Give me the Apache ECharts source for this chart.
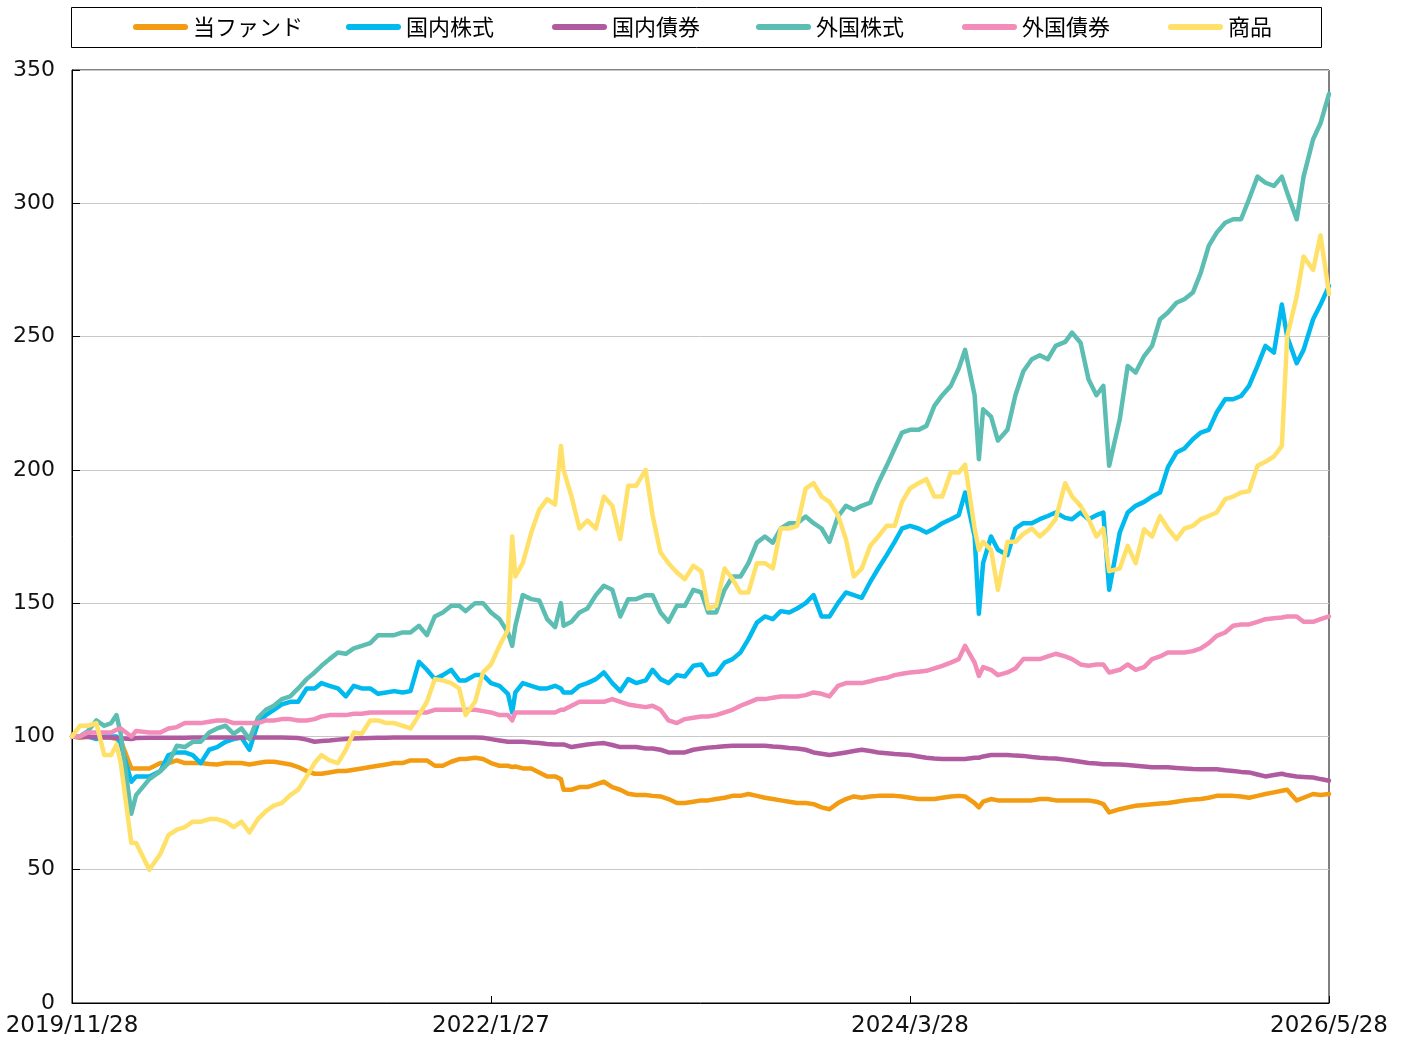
<!DOCTYPE html>
<html>
<head>
<meta charset="utf-8">
<script src="https://cdn.jsdelivr.net/npm/echarts@6/dist/echarts.min.js"></script>
<style>
html,body{margin:0;padding:0;background:#fff;}
#chart{width:1403px;height:1039px;}
</style>
</head>
<body>
<div id="chart"></div>
<script>
const seriesNames = ['当ファンド','国内株式','国内債券','外国株式','外国債券','商品'];
const seriesColors = ['#F39C12','#00B9EF','#B05BA0','#5CBEB2','#F28CB9','#FFE16A'];
const xTickDates = ['2019-11-28','2022-01-27','2024-03-28','2026-05-28'];
const yTicks = [0,50,100,150,200,250,300,350];

const dates = ['2019-11-28','2019-12-13','2019-12-28','2020-01-13','2020-01-28','2020-02-10','2020-02-20','2020-02-28','2020-03-19','2020-03-28',
'2020-04-22','2020-05-13','2020-05-28','2020-06-13','2020-06-28','2020-07-13','2020-07-28','2020-08-13','2020-08-28','2020-09-13',
'2020-09-28','2020-10-13','2020-10-28','2020-11-13','2020-11-28','2020-12-13','2020-12-28','2021-01-13','2021-01-28','2021-02-13',
'2021-02-28','2021-03-13','2021-03-28','2021-04-13','2021-04-28','2021-05-13','2021-05-28','2021-06-13','2021-06-28','2021-07-13',
'2021-07-28','2021-08-13','2021-08-28','2021-09-13','2021-09-28','2021-10-13','2021-10-28','2021-11-13','2021-11-28','2021-12-10',
'2021-12-28','2022-01-12','2022-01-27','2022-02-12','2022-02-28','2022-03-08','2022-03-14','2022-03-28','2022-04-13','2022-04-28',
'2022-05-13','2022-05-28','2022-06-08','2022-06-13','2022-06-28','2022-07-13','2022-07-28','2022-08-13','2022-08-28','2022-09-13',
'2022-09-28','2022-10-13','2022-10-28','2022-11-15','2022-11-28','2022-12-13','2022-12-28','2023-01-13','2023-01-28','2023-02-13',
'2023-02-28','2023-03-13','2023-03-28','2023-04-13','2023-04-28','2023-05-13','2023-05-28','2023-06-13','2023-06-28','2023-07-13',
'2023-07-28','2023-08-13','2023-08-28','2023-09-13','2023-09-28','2023-10-13','2023-10-28','2023-11-13','2023-11-28','2023-12-13',
'2023-12-28','2024-01-13','2024-01-28','2024-02-13','2024-02-28','2024-03-13','2024-03-28','2024-04-13','2024-04-28','2024-05-13',
'2024-05-28','2024-06-13','2024-06-28','2024-07-10','2024-07-28','2024-08-05','2024-08-13','2024-08-28','2024-09-10','2024-09-28',
'2024-10-13','2024-10-28','2024-11-13','2024-11-28','2024-12-13','2024-12-28','2025-01-15','2025-01-28','2025-02-13','2025-02-28',
'2025-03-15','2025-03-28','2025-04-08','2025-04-28','2025-05-13','2025-05-28','2025-06-13','2025-06-28','2025-07-13','2025-07-28',
'2025-08-13','2025-08-28','2025-09-13','2025-09-28','2025-10-13','2025-10-28','2025-11-13','2025-11-28','2025-12-13','2025-12-28',
'2026-01-13','2026-01-28','2026-02-13','2026-02-28','2026-03-10','2026-03-28','2026-04-10','2026-04-28','2026-05-12','2026-05-28'];

// 当ファンド
const fund = [100,99.5,100,99.5,99.8,99.5,99,98.5,88,88,
88,90,90,91,90,90,90,89.7,89.5,90,
90,90,89.5,90,90.5,90.5,90,89.5,88.5,87,
86,86,86.5,87,87,87.5,88,88.5,89,89.5,
90,90,91,91,91,89,89,90.5,91.5,91.5,
92,91.5,90,89,89,88.5,88.7,88,88,86.5,
85,85,84,80,80,81,81,82,83,81,
80,78.5,78,78,77.7,77.5,76.5,75,75,75.5,
76,76,76.5,77,77.7,77.7,78.4,77.7,77,76.5,
76,75.5,75,75,74.6,73.4,72.7,75,76.5,77.5,
77,77.5,77.7,77.7,77.7,77.5,77,76.5,76.5,76.5,
77,77.5,77.7,77.5,75,73.4,75.5,76.5,76,76,
76,76,76,76.5,76.5,76,76,76,76,76,
75.5,74.6,71.5,72.7,73.4,74,74.3,74.6,74.8,75,
75.5,76,76.3,76.5,77,77.7,77.7,77.7,77.5,77,
77.7,78.4,79,79.6,80,76,77,78.4,78,78.4];

// 国内株式
const jpStock = [100,100,100,99,100,100,100,97,83,85,
85,87,93,94,94,93,90,95,96,98,
99,99.6,95,105,108,110,112,113,113,118,
118,120,119,118,115,119,118,118,116,116.5,
117,116.5,117,128,125,121.5,123,125,121,121,
123,123,120,119,116,109,116.5,120,119,118,
118,119,118,116.5,116.5,119,120,121.5,124,120,
117,121.5,120,121,125,121.5,120,123,122.5,126.5,
127,123,123.5,127.7,129,131.5,136.5,142.7,145,144,
147,146.5,148,150,153,145,145,150,154,153,
152,158,163,168,173,178,179,178,176.5,178,
180,181.5,183,191.5,175,146,165,175,170,168,
178,180,180,181.5,182.7,184,182,181.5,184,181.5,
183,184,155,176.5,184,186.5,188,190,191.5,201,
206.5,208,211.5,214,215,221.5,226.5,226.5,227.7,231.5,
239,246.5,244,262,250,240,245,256.5,262,269];

// 国内債券
const jpBond = [100,99.8,99.8,99.7,99.6,99.6,99.5,99.3,99,99.4,
99.5,99.5,99.5,99.5,99.5,99.6,99.6,99.6,99.6,99.6,
99.6,99.6,99.6,99.6,99.6,99.6,99.6,99.5,99.4,98.8,
98,98.3,98.5,98.8,99,99.2,99.3,99.4,99.5,99.5,
99.6,99.6,99.6,99.6,99.6,99.6,99.6,99.6,99.6,99.6,
99.6,99.5,99,98.5,98,98,98,98,97.7,97.5,
97.2,97,97,97,96,96.5,97,97.3,97.5,96.8,
96,96,96,95.5,95.5,95,94,94,94,95,
95.5,95.8,96,96.3,96.5,96.5,96.5,96.5,96.5,96.2,
96,95.7,95.5,95,94,93.5,93,93.5,94,94.5,
95,94.5,94,93.7,93.4,93.2,93,92.5,92,91.7,
91.5,91.5,91.5,91.5,92,92,92.5,93,93,93,
92.8,92.7,92.3,92,91.8,91.7,91.3,91,90.5,90,
89.8,89.6,89.6,89.5,89.3,89,88.7,88.4,88.4,88.4,
88.2,88,87.8,87.7,87.7,87.7,87.3,87,86.7,86.5,
85.7,85,85.5,86,85.5,85,84.8,84.6,84,83.4];

// 外国株式
const fgStock = [100,100,102,106,104,105,108,101,71,78,
84,87,90,96.5,96,98,98,101.5,103,104,
101,103,99,107,110,111.5,114,115,118,121.5,
124,126.5,129,131.5,131,133,134,135,138,138,
138,139,139,141.5,138,145,146.5,149,149,147,
150,150,146.5,144,139,134,141.5,153,151.5,151,
144,141,150,141.5,143,146.5,148,153,156.5,155,
145,151.5,151.5,153,153,146.5,143,149,149,155,
154,146.5,146.5,155,160,160,165,172.7,175,172.7,
178,180,180,182.5,180,178,173,182.5,186.5,185,
186.5,187.7,195,201.5,208,214,215,215,216.5,224,
228,231.5,238,245,228,204,222.7,220,211,215,
228,237,241.5,243,241.5,246.5,248,251.5,247.7,234,
228,231.5,201.5,219,239,236.5,242.7,246.5,256.5,259,
262.7,264,266.5,274,284,289,292.7,294,294,301.5,
310,307.7,306.5,310,304,294,310,324,330,341];

// 外国債券
const fgBond = [100,100,101.5,101.5,101.5,101.5,102.5,103,100,102,
101.5,101.5,103,103.5,105,105,105,105.5,106,106,
105,105,105,105,106,106,106.5,106.5,106,106,
106.5,107.5,108,108,108,108.5,108.5,109,109,109,
109,109,109,109,109,110,110,110,110,110,
110,109.5,109,108,108,106,109,109,109,109,
109,109,110,110,111.5,113,113,113,113,114,
113,112,111.5,111,111.5,110,106,105,106.5,107,
107.5,107.5,108,109,110,111.5,112.7,114,114,114.5,
115,115,115,115.5,116.5,116,115,119,120,120,
120,120.7,121.5,122,123,123.5,124,124.3,124.6,125.5,
126.5,127.7,129,134,127.7,122.7,126,125,123,124,
125.5,129,129,129,130,131,130,129,127,126.5,
127,127,124,125,127,125,126,129,130,131.5,
131.5,131.5,132,133,135,137.7,139,141.5,142,142,
143,144,144.3,144.6,145,145,143,143,144,145];

// 商品
const commodity = [100,104,104,105,93,93,97,90,60,60,
50,56,63,65,66,68,68,69,69,68,
66,68,64,69,72,74,75,78,80,85,
90,93,91,90,95,101.5,101,106,106,105,
105,104,103,108,113,121.5,121,120,118,108,
113,124,127,134,140,175,160,165,176.5,185,
189,187,209,200,190,178,181,178,190,186.5,
174,194,194,200,183,169,165,161.5,159,164,
162,148,149,163,159,154,154,165,165,163,
178,178,179,193,195,190,188,183,174,160,
163,171.5,175,179,179,188,193,195,196.5,190,
190,199,199,202,178,170,173,170,155,173,
173,176,178,175,177.7,181.5,195,190,186.5,181.5,
175,178,162,163,171.5,165,177.7,175,182.7,178,
174,178,179,181.5,182.7,184,189,190,191.5,192,
201.5,203,205,209,250,265,280,275,288,266];

const allValues = [fund, jpStock, jpBond, fgStock, fgBond, commodity];

const DAY = 86400000;
function utc(s){ const p = s.split('-').map(Number); return Date.UTC(p[0], p[1]-1, p[2]); }
const t0 = utc(xTickDates[0]);
function dayIdx(s){ return Math.round((utc(s) - t0) / DAY); }
function fmtDay(v){ const d = new Date(t0 + Math.round(v) * DAY); return d.getUTCFullYear() + '/' + (d.getUTCMonth()+1) + '/' + d.getUTCDate(); }
const xTickDays = xTickDates.map(dayIdx);

// legend slot positions (layout only)
const legendLefts = [133, 346, 552, 756, 962, 1168];

const chart = echarts.init(document.getElementById('chart'), null, {renderer:'canvas'});
const numFont = 'DejaVu Sans';
const option = {
  animation: false,
  backgroundColor: '#fff',
  graphic: [{
    type: 'rect', silent: true, z: 0,
    shape: {x: 71.5, y: 7.5, width: 1250, height: 40},
    style: {fill: 'none', stroke: '#000', lineWidth: 1}
  }],
  legend: seriesNames.map((name, i) => ({
    data: [name],
    left: legendLefts[i], top: 16,
    padding: 0,
    itemWidth: 55, itemHeight: 6,
    icon: 'path://M3,0H52A3,3,0,0,1,52,6H3A3,3,0,0,1,3,0Z',
    textStyle: {fontFamily: 'Noto Sans CJK JP', fontSize: 22, color: '#000'}
  })),
  grid: {
    left: 72, right: 74, top: 70, bottom: 36,
    show: true, borderColor: '#000', borderWidth: 1, backgroundColor: 'transparent'
  },
  xAxis: {
    type: 'value',
    min: xTickDays[0],
    max: xTickDays[xTickDays.length-1],
    interval: xTickDays[1] - xTickDays[0],
    axisLine: {show: true, lineStyle: {color: '#000', width: 1}},
    axisTick: {show: true, inside: true, length: 7, lineStyle: {color: '#000'}},
    axisLabel: {formatter: fmtDay, fontFamily: numFont, fontSize: 23, color: '#111', margin: 12, showMinLabel: true, showMaxLabel: true},
    splitLine: {show: false}
  },
  yAxis: {
    type: 'value', min: yTicks[0], max: yTicks[yTicks.length-1], interval: 50,
    axisLine: {show: true, lineStyle: {color: '#000', width: 1}},
    axisTick: {show: true, inside: true, length: 8, lineStyle: {color: '#000'}},
    axisLabel: {fontFamily: numFont, fontSize: 22, color: '#111', margin: 17},
    splitLine: {show: true, lineStyle: {color: '#c8c8c8', width: 1}}
  },
  series: seriesNames.map((name, i) => ({
    name: name,
    type: 'line',
    data: dates.map((d, j) => [dayIdx(d), allValues[i][j]]),
    showSymbol: false,
    symbol: 'none',
    lineStyle: {color: seriesColors[i], width: 4.5, join: 'round', cap: 'round'},
    itemStyle: {color: seriesColors[i]},
    emphasis: {disabled: true}
  }))
};
chart.setOption(option);
</script>
</body>
</html>
